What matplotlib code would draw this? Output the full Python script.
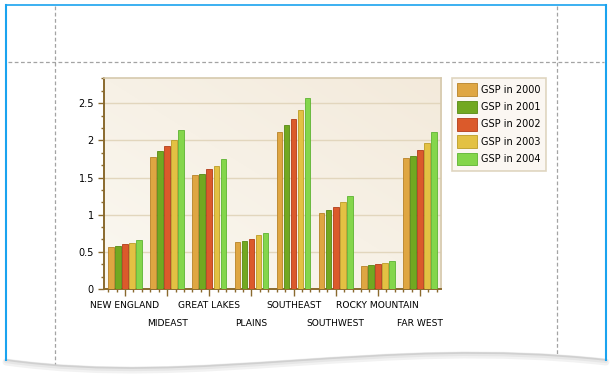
import numpy as np
import matplotlib
matplotlib.use('Agg')
import matplotlib.pyplot as plt
import matplotlib.transforms as mtransforms
from matplotlib.path import Path
from matplotlib.patches import PathPatch

regions = ['NEW ENGLAND', 'MIDEAST', 'GREAT LAKES', 'PLAINS',
           'SOUTHEAST', 'SOUTHWEST', 'ROCKY MOUNTAIN', 'FAR WEST']
years = ['2000', '2001', '2002', '2003', '2004']
gsp_2000 = [0.567, 1.770, 1.540, 0.635, 2.113, 1.018, 0.315, 1.761]
gsp_2001 = [0.585, 1.856, 1.554, 0.649, 2.207, 1.059, 0.329, 1.788]
gsp_2002 = [0.599, 1.919, 1.613, 0.676, 2.288, 1.099, 0.342, 1.869]
gsp_2003 = [0.622, 2.005, 1.662, 0.721, 2.410, 1.167, 0.356, 1.964]
gsp_2004 = [0.662, 2.135, 1.748, 0.757, 2.572, 1.248, 0.383, 2.113]
series = [gsp_2000, gsp_2001, gsp_2002, gsp_2003, gsp_2004]

fills = ['#dfa642', '#72a821', '#db5a2b', '#e3c143', '#84d64b']
edges = ['#b78227', '#568a12', '#b23c19', '#bb9c26', '#5db332']

plt.rcParams['font.family'] = ['DejaVu Sans']
W, H = 612, 377
fig = plt.figure(figsize=(W / 100, H / 100), dpi=100)

# page decoration (pixel coords)
bg = fig.add_axes([0, 0, 1, 1], zorder=0)
bg.set_xlim(0, W); bg.set_ylim(H, 0); bg.axis('off')
wave = Path([(6, 360), (200, 387), (380, 335), (606, 360)],
            [Path.MOVETO, Path.CURVE4, Path.CURVE4, Path.CURVE4])
for lw, c, dy in [(5, '#f2f2f2', 2), (3, '#e6e6e6', 1), (1.2, '#d0d0d0', 0)]:
    p = Path(wave.vertices + [0, dy], wave.codes)
    bg.add_patch(PathPatch(p, fill=False, lw=lw, ec=c, capstyle='round'))
blue = '#1aa3ef'
bg.plot([6, 606], [5, 5], color=blue, lw=1.2)
bg.plot([6, 6], [5, 360], color=blue, lw=1.5)
bg.plot([606, 606], [5, 360], color=blue, lw=1.5)
dash = dict(color='#a3a3a3', lw=0.9, ls=(0, (3, 2)))
bg.plot([8, 604], [62, 62], **dash)
bg.plot([55, 55], [6, 364], **dash)
bg.plot([557, 557], [6, 355], **dash)

# chart
ax = fig.add_axes([104 / W, 1 - 289 / H, 337 / W, 211 / H], zorder=2)
grad = np.linspace(0, 1, 200)
gx, gy = np.meshgrid(grad, grad)
g = (gx + (1 - gy)) / 2
c0 = np.array([251, 248, 241]) / 255
c1 = np.array([243, 234, 219]) / 255
img = c0 + (c1 - c0) * g[..., None]
ax.imshow(img, extent=[0, 1, 0, 1], transform=ax.transAxes, aspect='auto', zorder=0)

x = np.arange(len(regions))
slot = 0.167
for j, vals in enumerate(series):
    ax.bar(x + (j - 2) * slot, vals, width=0.135, color=fills[j], edgecolor=edges[j],
           linewidth=0.6, zorder=3, label=f'GSP in {years[j]}')

ymax = 2.84
ax.set_xlim(-0.5, len(regions) - 0.5)
ax.set_ylim(0, ymax)
ax.set_yticks(np.arange(0, 2.51, 0.5))
ax.set_yticklabels(['0', '0.5', '1', '1.5', '2', '2.5'])
ax.set_yticks(np.arange(0, ymax, 0.5 / 3), minor=True)
ax.yaxis.grid(True, color='#e2d6bd', lw=1, zorder=1)
ax.set_axisbelow(True)

ax.set_xticks(x)
ax.set_xticklabels(regions)
ax.set_xticks(np.concatenate([x + d for d in (-0.4, -0.2, 0.2, 0.4)]), minor=True)

brown = '#8a6a2e'
ax.tick_params(axis='both', which='major', color=brown, length=5, width=1, labelsize=7, pad=3)
ax.tick_params(axis='x', which='major', labelsize=6.6, pad=4)
ax.tick_params(axis='both', which='minor', color=brown, length=2.3, width=1)
ax.tick_params(axis='y', which='major', length=4.3)
for s in ('left', 'bottom'):
    ax.spines[s].set_color(brown); ax.spines[s].set_linewidth(1.4)
for s in ('top', 'right'):
    ax.spines[s].set_color('#d6c9ad'); ax.spines[s].set_linewidth(1.2)

# stagger every second category label onto a second row
shift = mtransforms.ScaledTranslation(0, -0.18, fig.dpi_scale_trans)
for i, lbl in enumerate(ax.get_xticklabels()):
    if i % 2 == 1:
        lbl.set_transform(lbl.get_transform() + shift)

# legend
leg = ax.legend(loc='upper left', bbox_to_anchor=(452 / W, 1 - 78 / H),
                bbox_transform=fig.transFigure, fontsize=7, frameon=True,
                fancybox=False, handlelength=2.0, handleheight=1.6, handletextpad=0.4,
                labelspacing=0.5, borderpad=0.55, borderaxespad=0)
leg.get_frame().set_facecolor('#faf6ef')
leg.get_frame().set_edgecolor('#d8ccb2')
leg.get_frame().set_linewidth(1.2)

fig.savefig('out.png', dpi=100, facecolor='white')
